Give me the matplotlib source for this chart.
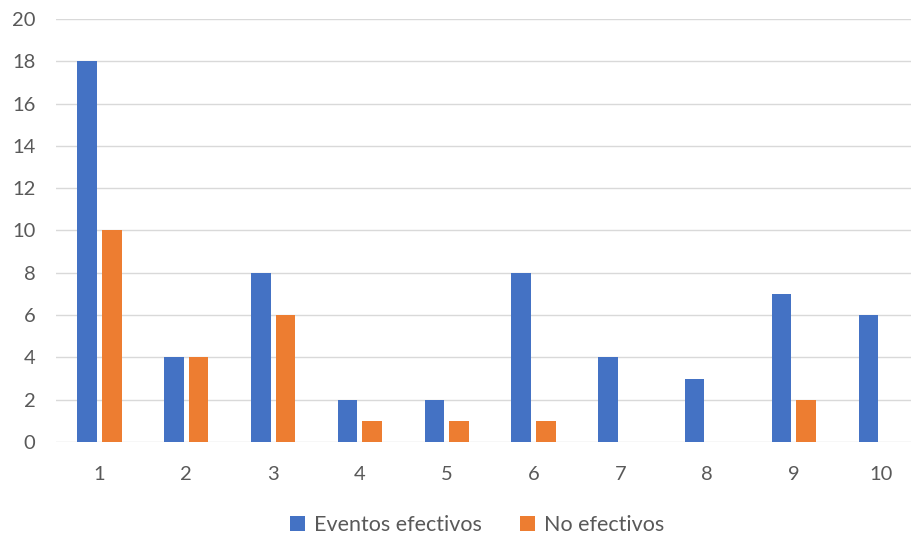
import numpy as np
import matplotlib
matplotlib.use("Agg")
import matplotlib.pyplot as plt

categories = ["1", "2", "3", "4", "5", "6", "7", "8", "9", "10"]
efectivos = [18, 4, 8, 2, 2, 8, 4, 3, 7, 6]
no_efectivos = [10, 4, 6, 1, 1, 1, 0, 0, 2, 0]

plt.rcParams["font.family"] = ["Lato", "DejaVu Sans"]

fig = plt.figure(figsize=(9.12, 5.37), dpi=100)
ax = fig.add_axes([0.0615, 0.177, 0.9385, 0.7876])

x = np.arange(1, len(categories) + 1)
w = 0.225
off = 0.142
ax.bar(x - off, efectivos, w, color="#4472C4", label="Eventos efectivos", zorder=3)
ax.bar(x + off, no_efectivos, w, color="#ED7D31", label="No efectivos", zorder=3)

ax.set_xlim(0.5, 0.5 + (912 - 56) / 86.8)
ax.set_ylim(0, 20)
ax.set_yticks(range(0, 21, 2))
ax.set_xticks(x)
ax.set_xticklabels(categories)

ax.grid(axis="y", color="#D9D9D9", linewidth=1.0, zorder=0)
for s in ax.spines.values():
    s.set_visible(False)
ax.tick_params(axis="both", length=0, labelsize=14.5, labelcolor="#595959")
ax.tick_params(axis="y", pad=15)
ax.tick_params(axis="x", pad=17)

fig.legend(loc="center", bbox_to_anchor=(0.523, 0.022), ncol=2, frameon=False,
           fontsize=15.5, labelcolor="#595959", handlelength=0.7, handleheight=0.7,
           handletextpad=0.4, columnspacing=1.8)

fig.savefig("out.png", dpi=100)
